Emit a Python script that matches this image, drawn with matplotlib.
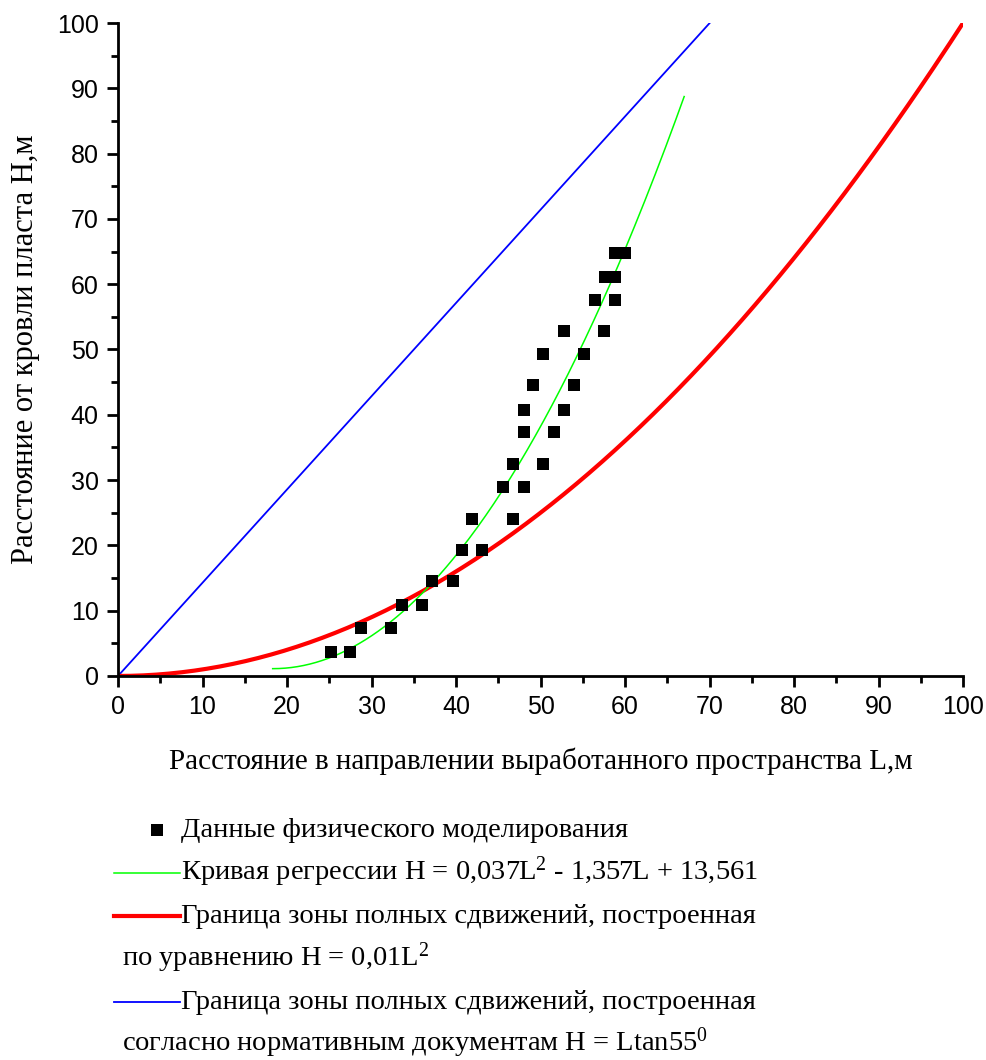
import numpy as np
import matplotlib
matplotlib.use("Agg")
import matplotlib.pyplot as plt
from matplotlib.lines import Line2D
from matplotlib.ticker import MultipleLocator

plt.rcParams['mathtext.fontset'] = 'custom'
plt.rcParams['mathtext.rm'] = 'Liberation Serif'
plt.rcParams['mathtext.it'] = 'Liberation Serif'

# physical modelling data (L, H)
data_L = [25.2, 27.5, 28.8, 32.3, 33.6, 36.0, 37.2, 39.6, 40.7, 43.1,
          41.9, 46.8, 45.6, 48.0, 46.8, 50.3, 48.0, 51.6, 48.0, 52.8,
          49.1, 54.0, 50.3, 55.2, 52.8, 57.5, 56.4, 58.8, 57.6, 58.8,
          58.8, 60.0]
data_H = [3.7, 3.7, 7.3, 7.3, 10.9, 10.9, 14.5, 14.5, 19.3, 19.3,
          24.1, 24.1, 28.9, 28.9, 32.5, 32.5, 37.3, 37.3, 40.8, 40.8,
          44.5, 44.5, 49.3, 49.3, 52.8, 52.8, 57.6, 57.6, 61.1, 61.1,
          64.8, 64.8]

# regression curve H = 0.037L^2 - 1.357L + 13.561
reg_coef = [0.037, -1.357, 13.561]
reg_range = (18.3, 67.0)
# H = 0.01L^2
par_coef = 0.01
par_range = (0, 100)
# H = L tan55
tan_angle = 55
lin_range = (0, 70)

fig = plt.figure(figsize=(9.87, 10.6), dpi=100)
ax = fig.add_axes([0.1196, 0.3623, 0.8561, 0.6160])

L1 = np.linspace(*lin_range, 50)
ax.plot(L1, L1 * np.tan(np.radians(tan_angle)), color='#0000ff', lw=1.3)
L2 = np.linspace(*par_range, 200)
ax.plot(L2, par_coef * L2 ** 2, color='#ff0000', lw=3)
L3 = np.linspace(*reg_range, 200)
ax.plot(L3, np.polyval(reg_coef, L3), color='#00ff00', lw=1.1)
ax.plot(data_L, data_H, 's', color='black', ms=8.6, mew=0)

ax.set_xlim(0, 100)
ax.set_ylim(0, 100)
for s in ['top', 'right']:
    ax.spines[s].set_visible(False)
for s in ['left', 'bottom']:
    ax.spines[s].set_linewidth(2)
ax.xaxis.set_major_locator(MultipleLocator(10))
ax.xaxis.set_minor_locator(MultipleLocator(5))
ax.yaxis.set_major_locator(MultipleLocator(10))
ax.yaxis.set_minor_locator(MultipleLocator(5))
ax.tick_params(which='major', length=8, width=2, direction='out', labelsize=18, pad=6)
ax.tick_params(which='minor', length=5, width=2, direction='out')
for lab in ax.get_xticklabels() + ax.get_yticklabels():
    lab.set_family('Liberation Sans')

ax.set_xlabel('Расстояние в направлении выработанного пространства L,м',
              family='Liberation Serif', fontsize=21, labelpad=20)
ax.set_ylabel('Расстояние от кровли пласта H,м',
              family='Liberation Serif', fontsize=22, labelpad=12)

# legend below chart
W, Hf = 987, 1060
def fx(px):
    return px / W
def fy(py):
    return 1 - py / Hf

tfont = dict(family='Liberation Serif', fontsize=20.5, va='baseline', ha='left')
fig.add_artist(Line2D([fx(157)], [fy(830)], marker='s', color='black', ms=9, mew=0, ls='none'))
fig.text(fx(181), fy(837), 'Данные физического моделирования', **tfont)
fig.add_artist(Line2D([fx(114), fx(180)], [fy(873), fy(873)], color='#00ff00', lw=1.1))
fig.text(fx(181), fy(880), 'Кривая регрессии H = 0,037L$^2$ - 1,357L + 13,561', **tfont)
fig.add_artist(Line2D([fx(114), fx(180)], [fy(916), fy(916)], color='#ff0000', lw=3))
fig.text(fx(181), fy(923), 'Граница зоны полных сдвижений, построенная', **tfont)
fig.text(fx(122), fy(966), 'по уравнению H = 0,01L$^2$', **tfont)
fig.add_artist(Line2D([fx(114), fx(180)], [fy(1002), fy(1002)], color='#0000ff', lw=1.3))
fig.text(fx(181), fy(1009), 'Граница зоны полных сдвижений, построенная', **tfont)
fig.text(fx(122), fy(1051), 'согласно нормативным документам H = Ltan55$^0$', **tfont)

fig.savefig('out.png', dpi=100)
